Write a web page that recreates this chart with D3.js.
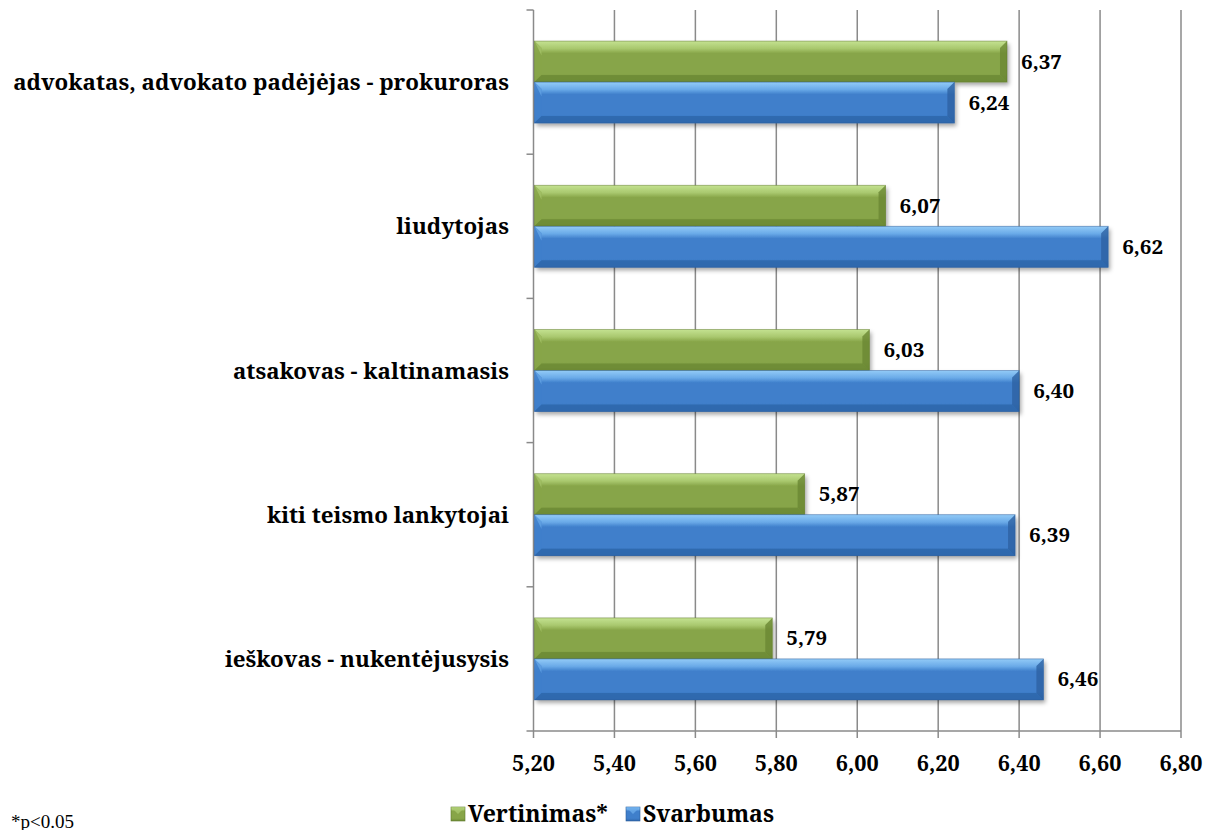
<!DOCTYPE html>
<html><head><meta charset="utf-8">
<script src="https://cdn.jsdelivr.net/npm/d3@7"></script>
<style>body{margin:0;background:#fff;} svg{display:block;}</style></head>
<body><svg id="c" width="1209" height="830"></svg>
<script>
const categories = ["advokatas, advokato padėjėjas - prokuroras","liudytojas","atsakovas - kaltinamasis","kiti teismo lankytojai","ieškovas - nukentėjusysis"];
const vertinimas = [6.37, 6.07, 6.03, 5.87, 5.79];
const svarbumas = [6.24, 6.62, 6.40, 6.39, 6.46];
const seriesNames = ["Vertinimas*", "Svarbumas"];
const xTicks = [5.2,5.4,5.6,5.8,6.0,6.2,6.4,6.6,6.8];
const footnote = "*p<0.05";

const FONT = "'Noto Serif', 'DejaVu Serif', serif";
const svg = d3.select("#c");
const L=533.5, R=1181, T=10, B=731;
const x = d3.scaleLinear().domain([5.2,6.8]).range([L,R]);
const y = d3.scaleBand().domain(categories).range([T,B]);
const fmt = v => d3.format(".2f")(v).replace(".", ",");

// choose a font size so that a sample string has the width seen in the reference
function fitSize(sample, target){
  const t = svg.append("text").attr("font-family",FONT).attr("font-size",20).attr("font-weight","bold").text(sample);
  const w = t.node().getComputedTextLength(); t.remove();
  return 20*target/w;
}
const catSize = fitSize(categories[0], 496);
const tickSize = fitSize("5,20", 43);
const valSize = fitSize("6,24", 41);
const legSize = fitSize(seriesNames[0], 140);
function addText(parent, tx, ty, size, str, anchor){
  return parent.append("text").attr("x",tx).attr("y",ty).attr("font-family",FONT)
    .attr("font-size",size).attr("font-weight","bold").attr("text-anchor",anchor||"start")
    .attr("fill","#000").text(str);
}

const defs = svg.append("defs");
const pal = {
  g:{top:"#c4e291", mid:"#87a548", bot:"#6e8c36", edge:"#5f7a2c", light:"#a9c86e", dark:"#6a8733"},
  b:{top:"#93cbf7", mid:"#3f7fcb", bot:"#2f68ad", edge:"#2a5c9a", light:"#6aaae8", dark:"#2d62a3"}
};
Object.entries(pal).forEach(([k,c])=>{
  const gr = defs.append("linearGradient").attr("id","grad"+k).attr("x1",0).attr("x2",0).attr("y1",0).attr("y2",1);
  gr.append("stop").attr("offset","0%").attr("stop-color",c.top);
  gr.append("stop").attr("offset","18%").attr("stop-color",c.light);
  gr.append("stop").attr("offset","30%").attr("stop-color",c.mid);
  gr.append("stop").attr("offset","80%").attr("stop-color",c.mid);
  gr.append("stop").attr("offset","100%").attr("stop-color",c.bot);
});
const f = defs.append("filter").attr("id","shadow").attr("x","-5%").attr("y","-20%").attr("width","115%").attr("height","160%");
f.append("feDropShadow").attr("dx",2).attr("dy",3).attr("stdDeviation",2).attr("flood-color","#000").attr("flood-opacity",0.35);

svg.append("g").selectAll("line").data(xTicks).join("line")
  .attr("x1",d=>x(d)).attr("x2",d=>x(d)).attr("y1",T).attr("y2",B+7)
  .attr("stroke","#8a8a8a").attr("stroke-width",1.5);
svg.append("line").attr("x1",L).attr("x2",R).attr("y1",B).attr("y2",B).attr("stroke","#8a8a8a").attr("stroke-width",1.5);
const yb = categories.map(c=>y(c)).concat([B]);
svg.append("g").selectAll("line").data(yb).join("line")
  .attr("x1",L-7).attr("x2",L).attr("y1",d=>d).attr("y2",d=>d)
  .attr("stroke","#8a8a8a").attr("stroke-width",1.5);

const tickG = svg.append("g");
xTicks.forEach(t=>addText(tickG, x(t), 771, tickSize, fmt(t), "middle"));
const catG = svg.append("g");
categories.forEach(c=>addText(catG, 509, y(c)+y.bandwidth()/2+8, catSize, c, "end"));

const barH = 41;
function drawBar(g, x0, x1, yy, k){
  const c = pal[k]; const w = x1-x0, h = barH, b = 7;
  const grp = g.append("g");
  grp.append("rect").attr("x",x0).attr("y",yy).attr("width",w).attr("height",h)
    .attr("fill","url(#grad"+k+")").attr("filter","url(#shadow)");
  grp.append("polygon").attr("points",[[x0,yy],[x0+b,yy+b],[x0+b,yy+h-b],[x0,yy+h]].join(" "))
    .attr("fill",c.mid).attr("opacity",0.9);
  grp.append("polygon").attr("points",[[x0,yy],[x0+b,yy+b],[x0+b,yy+h*0.35]].join(" "))
    .attr("fill",c.light).attr("opacity",0.7);
  grp.append("polygon").attr("points",[[x1,yy],[x1-b,yy+b],[x1-b,yy+h-b],[x1,yy+h]].join(" "))
    .attr("fill",c.dark).attr("opacity",0.8);
  grp.append("polygon").attr("points",[[x0,yy+h],[x0+b,yy+h-b],[x1-b,yy+h-b],[x1,yy+h]].join(" "))
    .attr("fill",c.bot).attr("opacity",0.9);
  grp.append("rect").attr("x",x0).attr("y",yy).attr("width",w).attr("height",h)
    .attr("fill","none").attr("stroke",c.edge).attr("stroke-width",0.8).attr("opacity",0.6);
}
const bars = svg.append("g");
const labels = svg.append("g");
categories.forEach((cat,i)=>{
  const cy = y(cat)+y.bandwidth()/2;
  const yg = cy - barH, yBl = cy;
  drawBar(bars, x(5.2)+1, x(vertinimas[i]), yg, "g");
  drawBar(bars, x(5.2)+1, x(svarbumas[i]), yBl, "b");
  addText(labels, x(vertinimas[i])+14, yg+barH/2+7, valSize, fmt(vertinimas[i]));
  addText(labels, x(svarbumas[i])+14, yBl+barH/2+7, valSize, fmt(svarbumas[i]));
});

const leg = svg.append("g");
const legItems = [{n:seriesNames[0],k:"g",x:451},{n:seriesNames[1],k:"b",x:626}];
legItems.forEach(it=>{
  leg.append("rect").attr("x",it.x).attr("y",807).attr("width",14).attr("height",14).attr("fill","url(#grad"+it.k+")").attr("stroke",pal[it.k].edge).attr("stroke-width",0.6);
  leg.append("polygon").attr("points",[[it.x,807],[it.x+14,807],[it.x+7,814]].join(" ")).attr("fill",pal[it.k].light).attr("opacity",0.8);
  addText(leg, it.x+17, 822, legSize, it.n);
});
svg.append("text").attr("x",11).attr("y",828).attr("font-family","'Liberation Serif', serif").attr("font-size",19).text(footnote);
</script></body></html>
